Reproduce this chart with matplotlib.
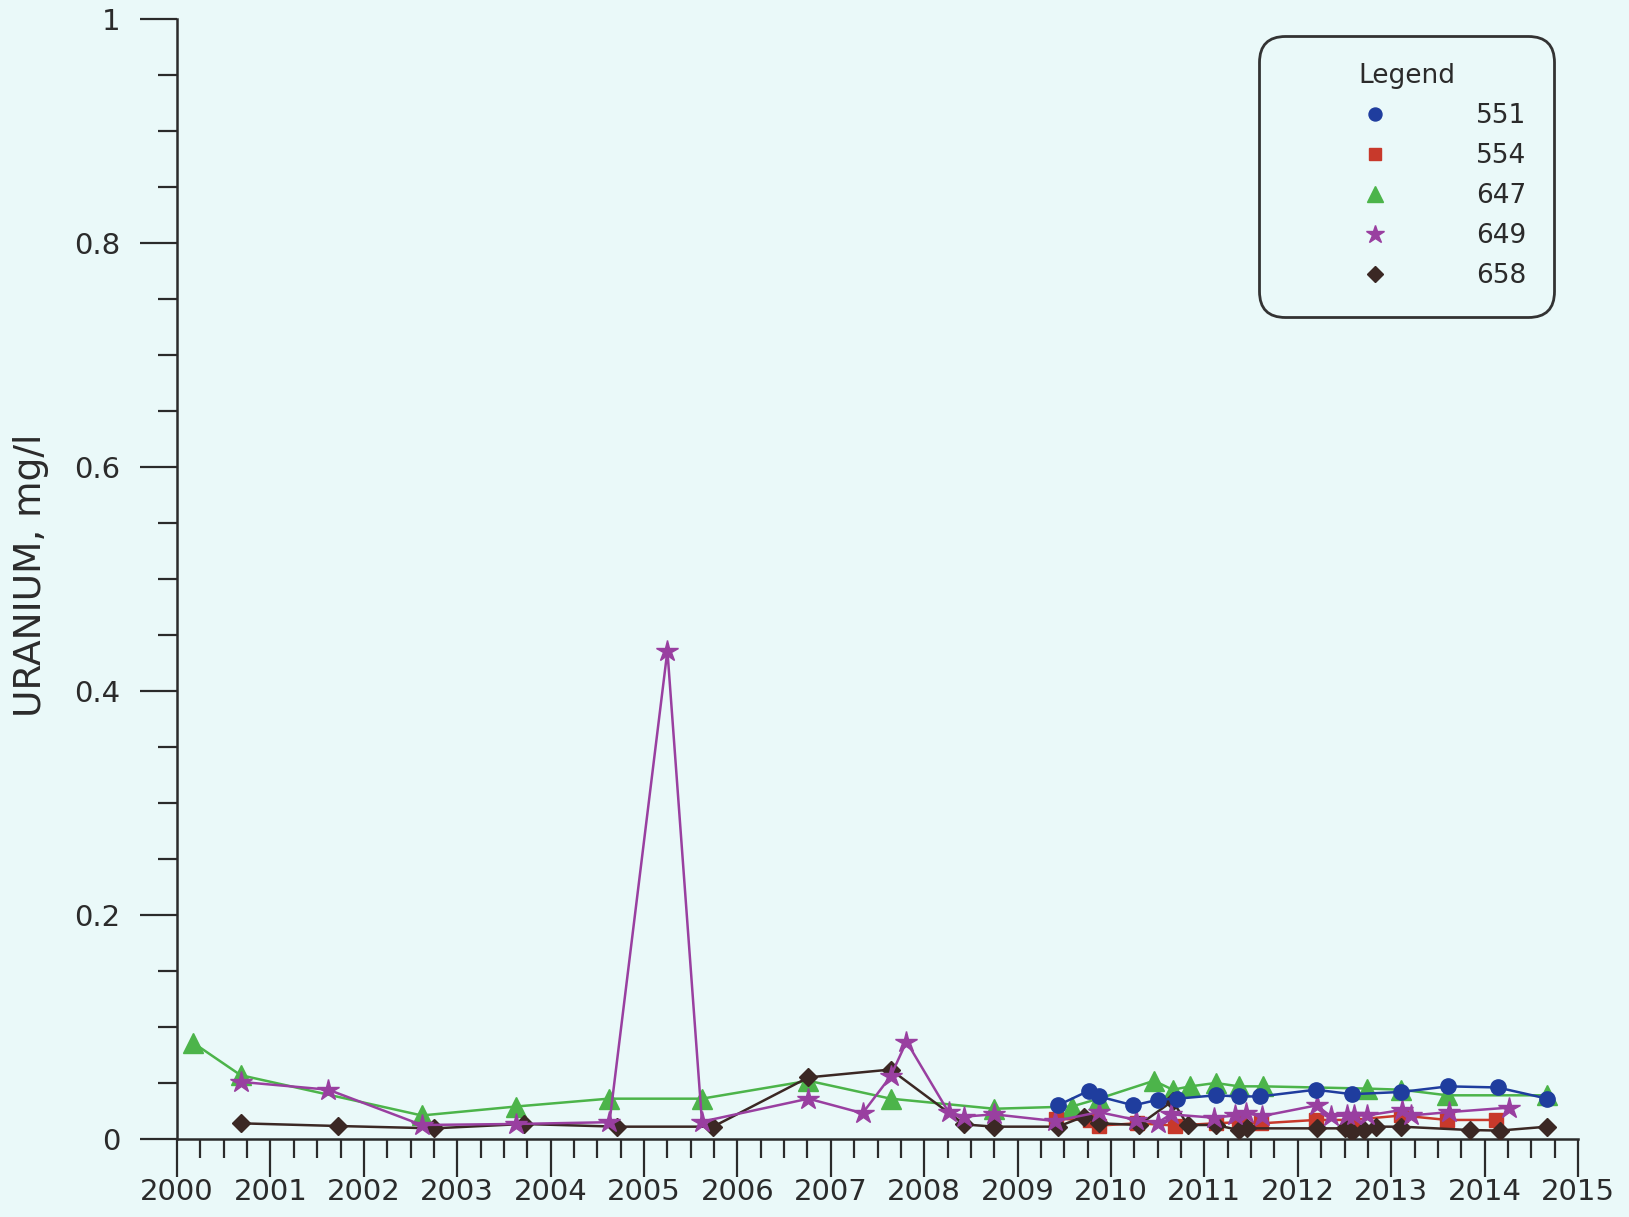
import matplotlib
matplotlib.use("Agg")
import matplotlib.pyplot as plt
from matplotlib.lines import Line2D
from matplotlib.ticker import MultipleLocator

# sampling dates (decimal years) and uranium values, mg/l
t_551 = [2009.43, 2009.76, 2009.87, 2010.24, 2010.50, 2010.71, 2011.12, 2011.37, 2011.60,
         2012.19, 2012.58, 2013.11, 2013.61, 2014.14, 2014.67]
u_551 = [0.030, 0.043, 0.038, 0.030, 0.035, 0.036, 0.039, 0.038, 0.038,
         0.044, 0.040, 0.042, 0.047, 0.046, 0.036]

t_554 = [2009.41, 2009.78, 2009.87, 2010.28, 2010.69, 2011.12, 2011.37, 2011.61,
         2012.19, 2012.58, 2013.11, 2013.60, 2014.12]
u_554 = [0.018, 0.017, 0.012, 0.014, 0.012, 0.014, 0.015, 0.014,
         0.017, 0.017, 0.021, 0.017, 0.017]

t_647 = [2000.17, 2000.68, 2002.62, 2003.63, 2004.62, 2005.62, 2006.76, 2007.64, 2008.75,
         2009.58, 2009.87, 2010.46, 2010.66, 2010.85, 2011.12, 2011.37, 2011.63,
         2012.74, 2013.11, 2013.60, 2014.67]
u_647 = [0.086, 0.057, 0.021, 0.029, 0.036, 0.036, 0.052, 0.036, 0.027,
         0.029, 0.036, 0.052, 0.044, 0.047, 0.050, 0.047, 0.047,
         0.045, 0.044, 0.039, 0.039]

t_649 = [2000.68, 2001.62, 2002.62, 2003.63, 2004.63, 2005.25, 2005.62, 2006.76, 2007.34,
         2007.64, 2007.81, 2008.26, 2008.43, 2008.75, 2009.40, 2009.87, 2010.27, 2010.50,
         2010.64, 2011.10, 2011.33, 2011.44, 2011.62, 2012.20, 2012.35, 2012.53, 2012.60,
         2012.74, 2013.12, 2013.21, 2013.62, 2014.26]
u_649 = [0.051, 0.044, 0.0125, 0.0134, 0.015, 0.436, 0.0155, 0.036, 0.023,
         0.056, 0.087, 0.024, 0.020, 0.022, 0.016, 0.024, 0.017, 0.0146,
         0.022, 0.019, 0.021, 0.023, 0.0205, 0.030, 0.0205, 0.021, 0.021,
         0.021, 0.026, 0.021, 0.024, 0.028]

t_658 = [2000.68, 2001.72, 2002.75, 2003.71, 2004.71, 2005.74, 2006.76, 2007.64, 2008.43,
         2008.75, 2009.43, 2009.71, 2009.87, 2010.30, 2010.66, 2010.82, 2011.12, 2011.37,
         2011.46, 2012.20, 2012.50, 2012.58, 2012.71, 2012.84, 2013.11, 2013.84, 2014.16,
         2014.67]
u_658 = [0.014, 0.0116, 0.0095, 0.0134, 0.011, 0.011, 0.055, 0.062, 0.013,
         0.011, 0.011, 0.020, 0.014, 0.0125, 0.034, 0.0125, 0.0125, 0.008,
         0.0095, 0.0095, 0.0095, 0.0065, 0.008, 0.011, 0.011, 0.008, 0.0075,
         0.011]

wells = ["551", "554", "647", "649", "658"]
series = [(t_551, u_551), (t_554, u_554), (t_647, u_647), (t_649, u_649), (t_658, u_658)]
colors = ["#1f3d9e", "#c8392b", "#4cb44a", "#993fa0", "#3b2824"]
markers = ["o", "s", "^", "*", "D"]
msizes = [11, 10, 14, 16, 9]
zorders = [6, 4, 3, 5, 4]

bg = "#eaf9f9"
ink = "#2b2b2b"

fig = plt.figure(figsize=(16.29, 12.17), dpi=100, facecolor=bg)
ax = fig.add_axes([0.1087, 0.0641, 0.860, 0.9203])
ax.set_facecolor(bg)

for (t, u), c, m, ms, z in zip(series, colors, markers, msizes, zorders):
    ax.plot(t, u, color=c, lw=1.8, marker=m, ms=ms, mec=c, mfc=c, zorder=z)

ax.set_xlim(2000, 2015)
ax.set_ylim(0, 1)
ax.xaxis.set_minor_locator(MultipleLocator(0.25))
ax.yaxis.set_minor_locator(MultipleLocator(0.05))
ax.set_yticks([0, 0.2, 0.4, 0.6, 0.8, 1.0])
ax.set_yticklabels(["0", "0.2", "0.4", "0.6", "0.8", "1"])
ax.set_xticks(range(2000, 2016))
ax.set_xticklabels([str(y) for y in range(2000, 2016)])

for s in ["top", "right"]:
    ax.spines[s].set_visible(False)
for s in ["left", "bottom"]:
    ax.spines[s].set_color(ink)
    ax.spines[s].set_linewidth(1.8)

ax.tick_params(which="major", direction="out", length=27, width=1.6, color=ink,
               labelsize=21, labelcolor=ink)
ax.tick_params(which="minor", direction="out", length=14, width=1.6, color=ink)
ax.tick_params(axis="x", which="major", pad=1)
ax.tick_params(axis="y", which="major", pad=14)

fig.text(0.019, 0.527, "URANIUM, mg/l", rotation=90, ha="center", va="center",
         fontsize=27, color=ink)

handles = [Line2D([], [], ls="none", marker=m, ms=ms * 0.85, color=c)
           for m, ms, c in zip(markers, msizes, colors)]
leg = ax.legend(handles, wells, title="Legend", loc="upper left",
                bbox_to_anchor=(0.772, 0.985), borderaxespad=0, fontsize=19,
                title_fontsize=19, handlelength=6.7, handletextpad=0.5,
                labelspacing=0.53, borderpad=1.05, frameon=True, fancybox=True,
                facecolor=bg, edgecolor="#333333", framealpha=1)
leg.get_frame().set_boxstyle("round,pad=0,rounding_size=1.0")
leg.get_frame().set_linewidth(2)
for txt in leg.get_texts():
    txt.set_color(ink)
leg.get_title().set_color(ink)
leg.set_zorder(10)

fig.savefig("out.png", dpi=100, facecolor=bg)
